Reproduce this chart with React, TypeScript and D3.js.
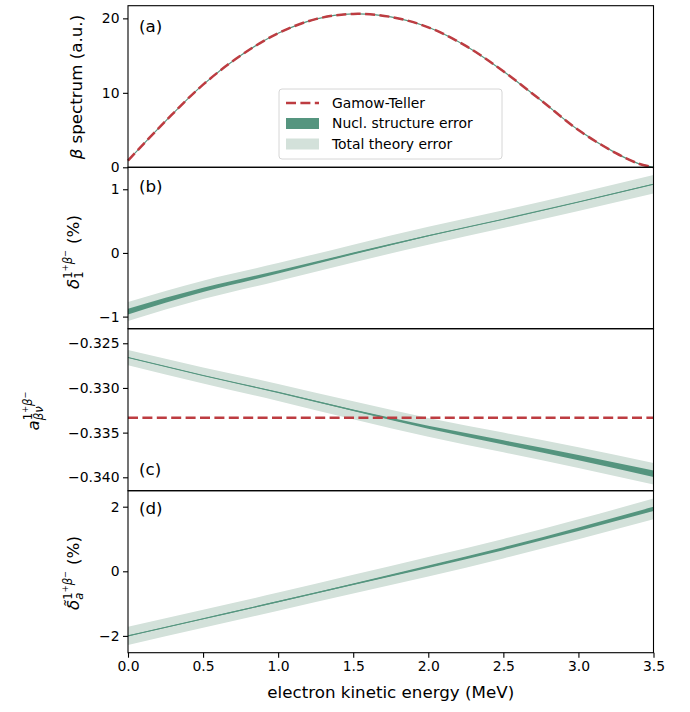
import React, { useEffect, useRef } from "react";
import * as d3 from "d3";

// Panel (a): beta spectrum, Gamow-Teller approximation (a.u.)
const spectrumEnergy = [0, 0.25, 0.5, 0.75, 1.0, 1.25, 1.5, 1.75, 2.0, 2.25, 2.5, 2.75, 3.0, 3.25, 3.4, 3.5];
const spectrumValues = [0.9, 6.2, 11.1, 15.0, 18.0, 19.9, 20.6, 20.2, 18.8, 16.3, 12.9, 9.0, 5.0, 1.9, 0.5, 0];

// Panels (b)-(d) share this energy grid (MeV)
const energy = [0, 0.5, 1.0, 1.5, 2.0, 2.5, 3.0, 3.5];

// (b) delta_1 (%)
const delta1 = [-0.92, -0.58, -0.3, -0.01, 0.27, 0.53, 0.8, 1.08];
const delta1Nucl = [0.045, 0.034, 0.024, 0.015, 0.008, 0.004, 0.003, 0.005];
const delta1Total = [0.15, 0.145, 0.14, 0.14, 0.14, 0.14, 0.142, 0.145];

// (c) a_beta_nu
const aBetaNu = [-0.3266, -0.3286, -0.3305, -0.3325, -0.3344, -0.3361, -0.3378, -0.3396];
const aBetaNuNucl = [0.00003, 0.00003, 0.00005, 0.00009, 0.00016, 0.00024, 0.0003, 0.00036];
const aBetaNuTotal = [0.00085, 0.0009, 0.00095, 0.001, 0.00105, 0.0011, 0.00115, 0.0012];
const aBetaNuGT = -1 / 3;

// (d) delta_a tilde (%)
const deltaA = [-2.0, -1.47, -0.94, -0.4, 0.14, 0.7, 1.3, 1.93];
const deltaANucl = [0.01, 0.012, 0.018, 0.026, 0.036, 0.046, 0.056, 0.066];
const deltaATotal = [0.28, 0.28, 0.28, 0.29, 0.3, 0.3, 0.31, 0.32];

const xTicks = [0, 0.5, 1.0, 1.5, 2.0, 2.5, 3.0, 3.5];
const legendLabels = ["Gamow-Teller", "Nucl. structure error", "Total theory error"];

/** Style variables. */
const colorNucl = "#55957f";
const colorTotal = "#d3e1da";
const colorGT = "#bd3c41";
const fontFamily = "DejaVu Sans";

type Run = { t: string; size: number; italic?: boolean; dy?: number; dx?: number };
type Seg = Run[] | { sub: Run[]; sup: Run[] };

/** Draws a rotated mathtext-like label; cx is the baseline x, cy the centre. */
function mathLabel(svg: any, cx: number, cy: number, segs: Seg[]) {
  const g = svg.append("g").attr("transform", `translate(${cx},${cy}) rotate(-90)`);
  let x = 0;
  const place = (runs: Run[], x0: number) => {
    let xx = x0;
    for (const r of runs) {
      xx += r.dx || 0;
      const t = g
        .append("text")
        .attr("x", xx)
        .attr("y", r.dy || 0)
        .attr("font-size", r.size)
        .attr("font-style", r.italic ? "italic" : "normal")
        .text(r.t);
      xx += (t.node() as SVGTextElement).getComputedTextLength();
    }
    return xx - x0;
  };
  for (const s of segs) {
    if (Array.isArray(s)) x += place(s, x);
    else x += Math.max(place(s.sub, x), place(s.sup, x));
  }
  g.selectAll("text").attr("x", function (this: any) {
    return +d3.select(this).attr("x") - x / 2;
  });
}

function draw(el: SVGSVGElement) {
  const svg = d3.select(el);
  svg.selectAll("*").remove();
  svg.attr("font-family", fontFamily);

  const left = 128,
    right = 653.5;
  const x = d3.scaleLinear().domain([0, 3.5]).range([left, right]);

  const panels = [
    { top: 5.7, bottom: 167.3, domain: [0, 21.7], ticks: [0, 10, 20], fmt: (d: number) => String(d), tag: "(a)", tagY: 32 },
    { top: 167.3, bottom: 328.7, domain: [-1.19, 1.345], ticks: [-1, 0, 1], fmt: (d: number) => String(d), tag: "(b)", tagY: 192 },
    { top: 328.7, bottom: 490.7, domain: [-0.3415, -0.32337], ticks: [-0.34, -0.335, -0.33, -0.325], fmt: (d: number) => d.toFixed(3), tag: "(c)", tagY: 475 },
    { top: 490.7, bottom: 652.7, domain: [-2.52, 2.495], ticks: [-2, 0, 2], fmt: (d: number) => String(d), tag: "(d)", tagY: 514 },
  ];
  const ys = panels.map((p) => d3.scaleLinear().domain(p.domain).range([p.bottom, p.top]));

  const curve = d3.curveMonotoneX;

  // Bands and central lines
  const bandSeries = [
    { yi: 1, c: delta1, n: delta1Nucl, t: delta1Total },
    { yi: 2, c: aBetaNu, n: aBetaNuNucl, t: aBetaNuTotal },
    { yi: 3, c: deltaA, n: deltaANucl, t: deltaATotal },
  ];
  bandSeries.forEach((s) => {
    const y = ys[s.yi];
    const idx = d3.range(energy.length);
    const area = (err: number[]) =>
      d3
        .area<number>()
        .x((i) => x(energy[i]))
        .y0((i) => y(s.c[i] - err[i]))
        .y1((i) => y(s.c[i] + err[i]))
        .curve(curve)(idx);
    svg.append("path").attr("d", area(s.t)).attr("fill", colorTotal);
    svg.append("path").attr("d", area(s.n)).attr("fill", colorNucl);
    svg
      .append("path")
      .attr(
        "d",
        d3
          .line<number>()
          .x((i) => x(energy[i]))
          .y((i) => y(s.c[i]))
          .curve(curve)(idx)
      )
      .attr("fill", "none")
      .attr("stroke", colorNucl)
      .attr("stroke-width", 1.1);
  });

  // Panel (a): spectrum
  const specLine = d3
    .line<number>()
    .x((i) => x(spectrumEnergy[i]))
    .y((i) => ys[0](spectrumValues[i]))
    .curve(d3.curveCatmullRom)(d3.range(spectrumEnergy.length));
  svg.append("path").attr("d", specLine).attr("fill", "none").attr("stroke", colorNucl).attr("stroke-width", 1.2);
  svg
    .append("path")
    .attr("d", specLine)
    .attr("fill", "none")
    .attr("stroke", colorGT)
    .attr("stroke-width", 2.5)
    .attr("stroke-dasharray", "10,4.4");

  // Panel (c): Gamow-Teller value
  svg
    .append("line")
    .attr("x1", x(0))
    .attr("x2", x(3.5))
    .attr("y1", ys[2](aBetaNuGT))
    .attr("y2", ys[2](aBetaNuGT))
    .attr("stroke", colorGT)
    .attr("stroke-width", 2.5)
    .attr("stroke-dasharray", "10,4.4");

  // Frames, y ticks and panel tags
  panels.forEach((p, i) => {
    const y = ys[i];
    const axis = d3.axisLeft(y).tickValues(p.ticks).tickSize(5).tickPadding(3.5).tickFormat((d: any) => p.fmt(+d).replace("-", "\u2212"));
    const g = svg.append("g").attr("transform", `translate(${left},0)`).call(axis as any);
    g.select(".domain").remove();
    g.selectAll(".tick line").attr("stroke", "#000").attr("stroke-width", 1.1);
    g.selectAll(".tick text").attr("font-size", 13.9).attr("font-family", fontFamily).attr("fill", "#000");
    svg
      .append("rect")
      .attr("x", left)
      .attr("y", p.top)
      .attr("width", right - left)
      .attr("height", p.bottom - p.top)
      .attr("fill", "none")
      .attr("stroke", "#000")
      .attr("stroke-width", 1.1);
    svg.append("text").attr("x", 139).attr("y", p.tagY).attr("font-size", 16.7).text(p.tag);
  });

  // x axis on the bottom panel
  const xg = svg
    .append("g")
    .attr("transform", `translate(0,${panels[3].bottom})`)
    .call(d3.axisBottom(x).tickValues(xTicks).tickSize(5).tickPadding(3.5).tickFormat((d: any) => (+d).toFixed(1)) as any);
  xg.select(".domain").remove();
  xg.selectAll(".tick line").attr("stroke", "#000").attr("stroke-width", 1.1);
  xg.selectAll(".tick text").attr("font-size", 13.9).attr("font-family", fontFamily).attr("fill", "#000");

  svg
    .append("text")
    .attr("x", (left + right) / 2)
    .attr("y", 698)
    .attr("text-anchor", "middle")
    .attr("font-size", 16.7)
    .text("electron kinetic energy (MeV)");

  // y labels
  const big = 16.7,
    small = 11.7,
    tiny = 8.3;
  const betaSup: Run[] = [
    { t: "1", size: small, dy: -7.5 },
    { t: "+", size: tiny, dy: -11.5 },
    { t: "β", size: small, italic: true, dy: -7.5 },
    { t: "−", size: tiny, dy: -11.5 },
  ];
  mathLabel(svg, 82, 87, [[{ t: "β", size: big, italic: true }, { t: "spectrum (a.u.)", size: big, dx: 5 }]]);
  mathLabel(svg, 79, 252, [
    [{ t: "δ", size: big, italic: true }],
    { sub: [{ t: "1", size: small, dy: 4 }], sup: betaSup },
    [{ t: "(%)", size: big, dx: 6 }],
  ]);
  mathLabel(svg, 39, 411, [
    [{ t: "a", size: big, italic: true }],
    { sub: [{ t: "βν", size: small, italic: true, dy: 4 }], sup: betaSup },
  ]);
  mathLabel(svg, 79, 573, [
    [{ t: "δ\u0303", size: big, italic: true }],
    { sub: [{ t: "a", size: small, italic: true, dy: 4 }], sup: betaSup },
    [{ t: "(%)", size: big, dx: 6 }],
  ]);

  // Legend
  const lg = svg.append("g");
  lg.append("rect")
    .attr("x", 279)
    .attr("y", 89)
    .attr("width", 223)
    .attr("height", 70)
    .attr("rx", 3)
    .attr("fill", "#fff")
    .attr("fill-opacity", 0.8)
    .attr("stroke", "#d6d6d6");
  const rowY = [103, 123.5, 144];
  lg.append("line")
    .attr("x1", 286)
    .attr("x2", 319)
    .attr("y1", rowY[0])
    .attr("y2", rowY[0])
    .attr("stroke", colorGT)
    .attr("stroke-width", 2.5)
    .attr("stroke-dasharray", "10,4.4");
  lg.append("rect").attr("x", 286).attr("y", rowY[1] - 5.5).attr("width", 33).attr("height", 11).attr("fill", colorNucl);
  lg.append("rect").attr("x", 286).attr("y", rowY[2] - 5.5).attr("width", 33).attr("height", 11).attr("fill", colorTotal);
  legendLabels.forEach((l, i) => {
    lg.append("text").attr("x", 332).attr("y", rowY[i]).attr("dy", "0.35em").attr("font-size", 13.9).text(l);
  });
}

export default function App() {
  const ref = useRef<SVGSVGElement>(null);
  useEffect(() => {
    if (ref.current) draw(ref.current);
  }, []);
  return <svg ref={ref} width={690} height={712} style={{ position: "absolute", left: 0, top: 0, background: "#fff" }} />;
}
